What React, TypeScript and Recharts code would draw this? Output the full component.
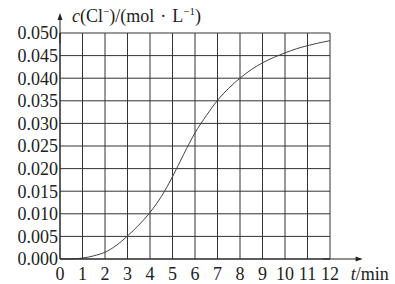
import React from 'react'
import { LineChart, Line, XAxis, YAxis, CartesianGrid, ReferenceDot } from 'recharts'

// t / min
const times = [0, 0.5, 1, 1.5, 2, 2.5, 3, 3.5, 4, 4.5, 5, 5.5, 6, 6.5, 7, 7.5, 8, 8.5, 9, 9.5, 10, 10.5, 11, 11.5, 12]
// c(Cl-) / (mol·L-1)
const chloride = [
  0, 0.00003, 0.0002, 0.0007, 0.0015, 0.003, 0.0051, 0.0075, 0.0103, 0.0138, 0.0182, 0.0232, 0.0279,
  0.0317, 0.0351, 0.0378, 0.04, 0.0419, 0.0434, 0.0446, 0.0456, 0.0465, 0.0472, 0.0478, 0.0483,
]
const xTicks = [0, 1, 2, 3, 4, 5, 6, 7, 8, 9, 10, 11, 12]
const yTicks = [0, 0.005, 0.01, 0.015, 0.02, 0.025, 0.03, 0.035, 0.04, 0.045, 0.05]

const FONT = '"Liberation Serif", "Times New Roman", serif'
const INK = '#222'

const data = times.map((t, i) => ({ t, c: chloride[i] }))

function YArrow({ cx, cy }: any) {
  return (
    <g>
      <line x1={cx} y1={cy + 2} x2={cx} y2={cy + 30} stroke={INK} strokeWidth={1} />
      <path d={`M${cx},${cy} L${cx - 2.5},${cy + 7} L${cx + 2.5},${cy + 7} Z`} fill={INK} />
      <text x={cx + 12} y={cy + 9} fontFamily={FONT} fontSize={18} fill={INK}>
        <tspan fontStyle="italic">c</tspan>
        <tspan>(Cl</tspan>
        <tspan fontSize={11} dy={-7}>−</tspan>
        <tspan dy={7}>)/(mol</tspan>
        <tspan dx={6}>·</tspan>
        <tspan dx={6}>L</tspan>
        <tspan fontSize={11} dy={-7}>−1</tspan>
        <tspan dy={7}>)</tspan>
      </text>
    </g>
  )
}

function XArrow({ cx, cy }: any) {
  return (
    <g>
      <line x1={cx - 40} y1={cy} x2={cx - 2} y2={cy} stroke={INK} strokeWidth={1} />
      <path d={`M${cx},${cy} L${cx - 7},${cy - 2.5} L${cx - 7},${cy + 2.5} Z`} fill={INK} />
      <text x={cx - 12} y={cy + 21} fontFamily={FONT} fontSize={18} fill={INK}>
        <tspan fontStyle="italic">t</tspan>
        <tspan>/min</tspan>
      </text>
    </g>
  )
}

export default function App() {
  return (
    <div style={{ position: 'absolute', left: 0, top: 0, background: '#fff' }}>
      <LineChart width={395} height={284} data={data} margin={{ top: 33, right: 65, bottom: 0, left: 0 }}>
        <CartesianGrid stroke="#333" strokeWidth={1} horizontalValues={yTicks} verticalValues={xTicks} />
        <XAxis
          dataKey="t"
          type="number"
          height={25}
          domain={[0, 12]}
          ticks={xTicks}
          interval={0}
          tickLine={false}
          tickSize={0}
          tickMargin={8}
          axisLine={{ stroke: INK }}
          tick={{ fontFamily: FONT, fontSize: 18, fill: INK }}
        />
        <YAxis
          type="number"
          width={60}
          domain={[0, 0.05]}
          ticks={yTicks}
          interval={0}
          tickLine={false}
          tickSize={0}
          tickMargin={2}
          axisLine={{ stroke: INK }}
          tick={{ fontFamily: FONT, fontSize: 18, fill: INK }}
          tickFormatter={(v: number) => v.toFixed(3)}
        />
        <Line
          type="monotone"
          dataKey="c"
          stroke="#444"
          strokeWidth={1}
          dot={false}
          isAnimationActive={false}
        />
        <ReferenceDot x={0} y={0.0544} ifOverflow="visible" shape={YArrow} />
        <ReferenceDot x={13.45} y={0} ifOverflow="visible" shape={XArrow} />
      </LineChart>
    </div>
  )
}
